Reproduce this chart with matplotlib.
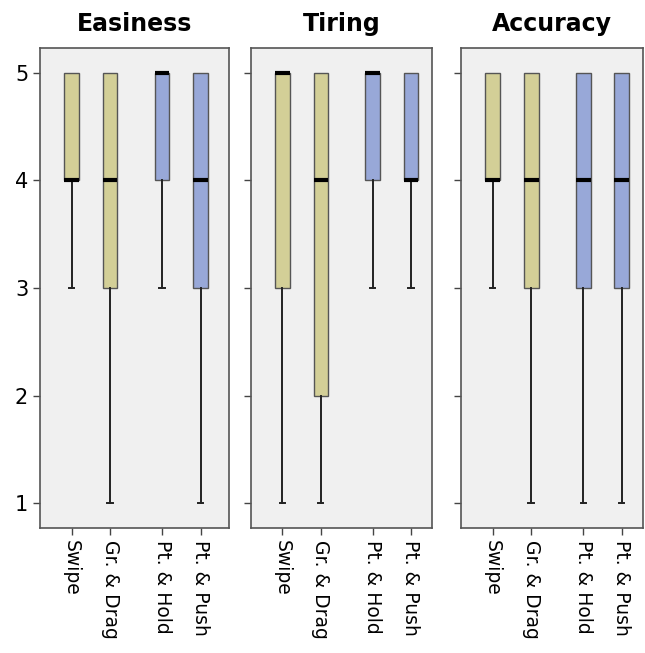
import matplotlib.pyplot as plt

methods = ["Swipe", "Gr. & Drag", "Pt. & Hold", "Pt. & Push"]
panels = ["Easiness", "Tiring", "Accuracy"]

# per panel, per method: whisker low, q1, median, q3, whisker high
easiness = [(3, 4, 4, 5, 5), (1, 3, 4, 5, 5), (3, 4, 5, 5, 5), (1, 3, 4, 5, 5)]
tiring = [(1, 3, 5, 5, 5), (1, 2, 4, 5, 5), (3, 4, 5, 5, 5), (3, 4, 4, 5, 5)]
accuracy = [(3, 4, 4, 5, 5), (1, 3, 4, 5, 5), (1, 3, 4, 5, 5), (1, 3, 4, 5, 5)]
all_data = [easiness, tiring, accuracy]

positions = [1, 2, 3.35, 4.35]
colors = ["#d3cf97", "#d3cf97", "#98a8d8", "#98a8d8"]

fig = plt.figure(figsize=(6.45, 6.53), dpi=100)
rects = [
    [40 / 645, 0.1914, 189 / 645, 0.735],
    [251 / 645, 0.1914, 181 / 645, 0.735],
    [461 / 645, 0.1914, 182 / 645, 0.735],
]

for i in range(3):
    ax = fig.add_axes(rects[i], facecolor="#f0f0f0")
    stats = []
    for j in range(4):
        lo, q1, med, q3, hi = all_data[i][j]
        stats.append({"whislo": lo, "q1": q1, "med": med, "q3": q3,
                      "whishi": hi, "fliers": []})
    bp = ax.bxp(stats, positions=positions, widths=0.38, patch_artist=True,
                showfliers=False,
                medianprops=dict(color="black", linewidth=3, solid_capstyle="butt"),
                whiskerprops=dict(color="#222222", linewidth=1.4),
                capprops=dict(color="#222222", linewidth=1.4),
                boxprops=dict(edgecolor="#555555", linewidth=1.0))
    for patch, c in zip(bp["boxes"], colors):
        patch.set_facecolor(c)
    for k, cap in enumerate(bp["caps"]):
        lo, q1, med, q3, hi = all_data[i][k // 2]
        # hide caps on zero-length whiskers
        if (k % 2 == 0 and lo == q1) or (k % 2 == 1 and hi == q3):
            cap.set_visible(False)
        x = cap.get_xdata()
        mid = (x[0] + x[1]) / 2
        cap.set_xdata([mid - 0.07, mid + 0.07])
    ax.set_xlim(0.18, 5.09 if i == 0 else 4.9)
    ax.set_ylim(0.77, 5.23)
    ax.set_yticks([1, 2, 3, 4, 5])
    if i == 0:
        ax.set_yticklabels(["1", "2", "3", "4", "5"], fontsize=15)
    else:
        ax.set_yticklabels([])
    ax.set_xticks(positions)
    ax.set_xticklabels(methods, rotation=-90, fontsize=13.5, va="top")
    ax.tick_params(length=5, color="#444444", width=1)
    for s in ax.spines.values():
        s.set_color("#555555")
        s.set_linewidth(1.2)
    ax.set_title(panels[i], fontsize=17, fontweight="bold", pad=12)

plt.savefig("out.png", dpi=100)
